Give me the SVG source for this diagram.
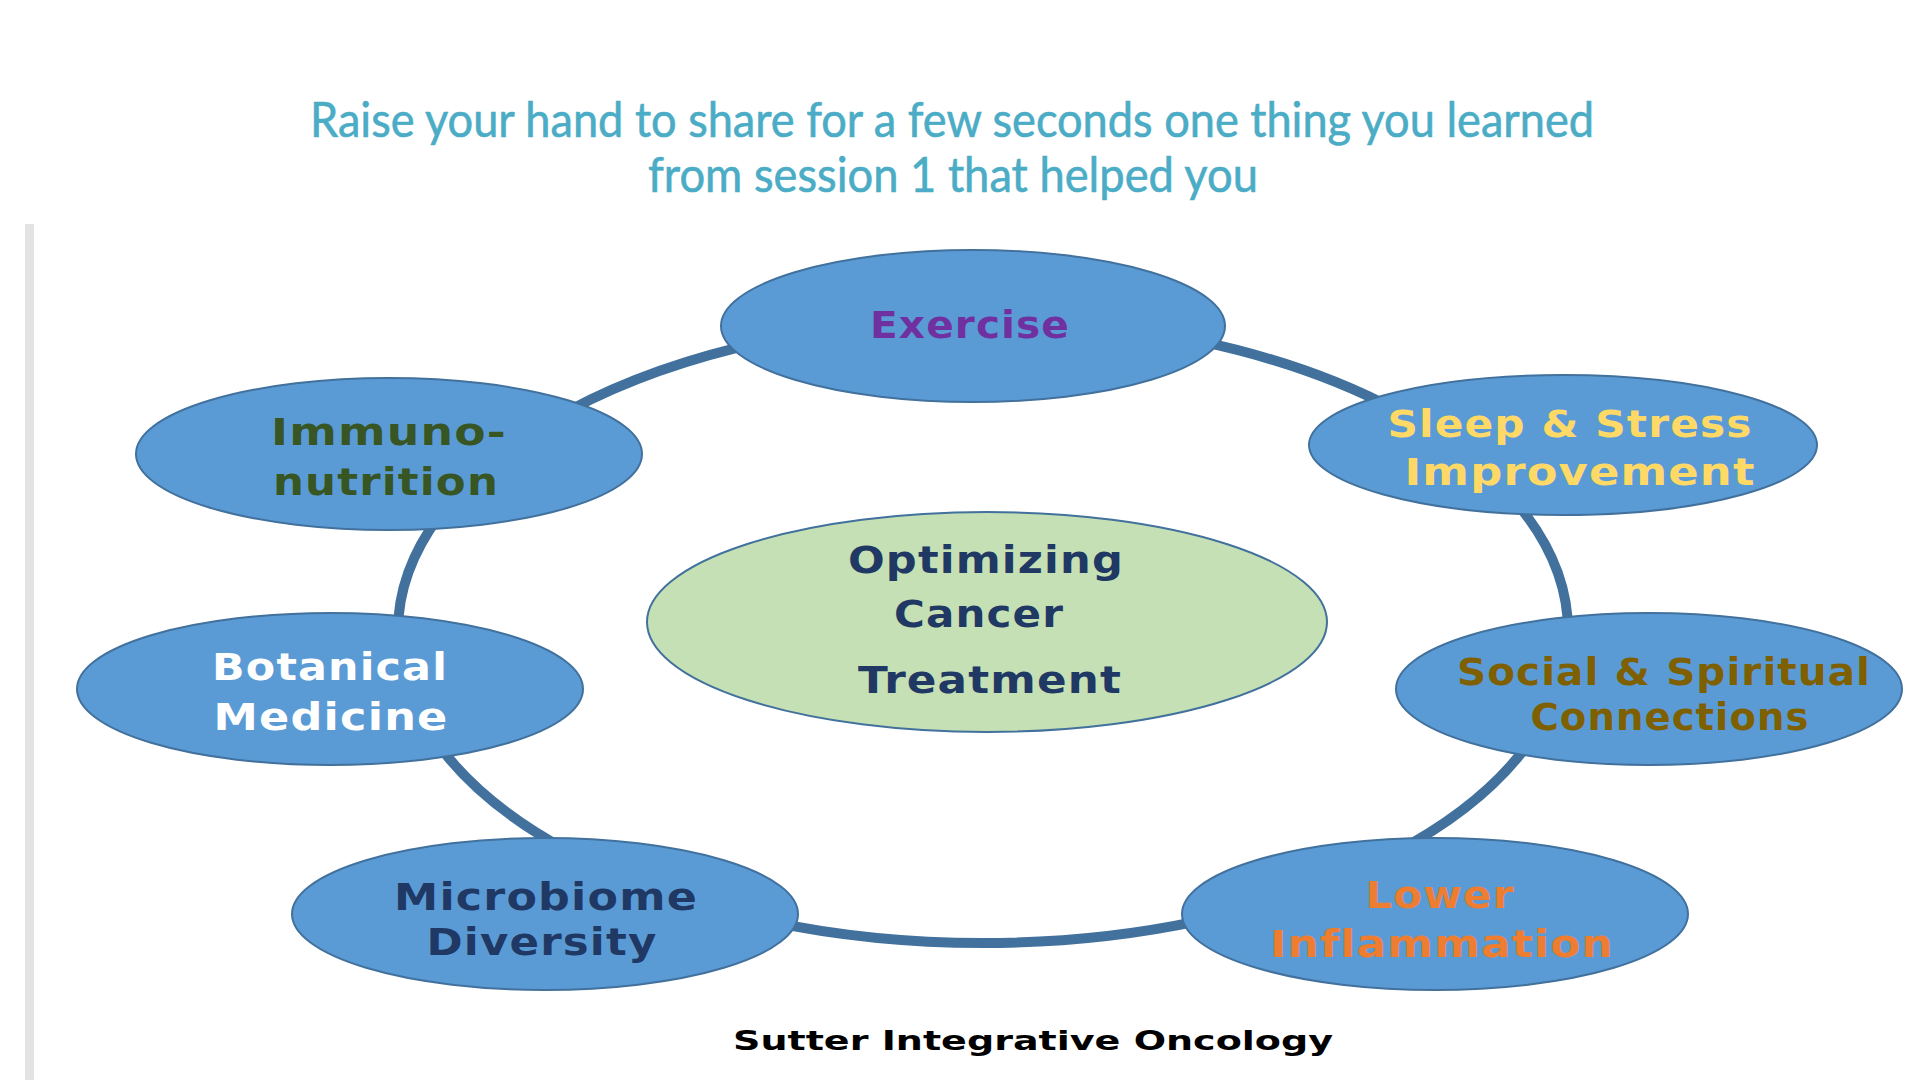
<svg xmlns="http://www.w3.org/2000/svg" width="1920" height="1080" viewBox="0 0 1920 1080">
<style>
.title{font-family:Lato,"Open Sans","Liberation Sans",sans-serif;font-size:48px;fill:#4BACC6;text-anchor:middle;stroke:#4BACC6;stroke-width:0.6}
.node{fill:#5B9BD5;stroke:#41719C;stroke-width:2}
.hub{fill:#C5E0B4;stroke:#41719C;stroke-width:2}
.lbl{font-family:"DejaVu Sans",Verdana,sans-serif;font-weight:bold;font-size:37px;text-anchor:middle;letter-spacing:1px}
.ring{fill:none;stroke:#41719C;stroke-width:10}
.foot{font-family:"DejaVu Sans",Verdana,sans-serif;font-weight:bold;font-size:27px;fill:#000;text-anchor:middle}
</style>
<rect width="1920" height="1080" fill="#FFFFFF"/>
<rect x="25" y="224" width="9" height="856" fill="#E3E3E3"/>
<text class="title" x="952" y="137" textLength="1284" lengthAdjust="spacingAndGlyphs">Raise your hand to share for a few seconds one thing you learned</text>
<text class="title" x="953" y="192" textLength="610" lengthAdjust="spacingAndGlyphs">from session 1 that helped you</text>
<g id="connectors">
<ellipse class="ring" cx="983" cy="631" rx="585" ry="312"/>
</g>
<g id="node-exercise">
<ellipse class="node" cx="973" cy="326" rx="252" ry="76"/>
<text class="lbl" x="970" y="338" fill="#7030A0" textLength="200" lengthAdjust="spacingAndGlyphs">Exercise</text>
</g>
<g id="node-immuno">
<ellipse class="node" cx="389" cy="454" rx="253" ry="76"/>
<text class="lbl" x="389" y="445" fill="#375623" textLength="236" lengthAdjust="spacingAndGlyphs">Immuno-</text>
<text class="lbl" x="386" y="495" fill="#375623" textLength="226" lengthAdjust="spacingAndGlyphs">nutrition</text>
</g>
<g id="node-sleep">
<ellipse class="node" cx="1563" cy="445" rx="254" ry="70"/>
<text class="lbl" x="1570" y="437" fill="#FFD966" textLength="365" lengthAdjust="spacingAndGlyphs">Sleep &amp; Stress</text>
<text class="lbl" x="1580" y="485" fill="#FFD966" textLength="351" lengthAdjust="spacingAndGlyphs">Improvement</text>
</g>
<g id="node-center">
<ellipse class="hub" cx="987" cy="622" rx="340" ry="110"/>
<text class="lbl" x="986" y="573" fill="#1F3864" textLength="276" lengthAdjust="spacingAndGlyphs">Optimizing</text>
<text class="lbl" x="979" y="627" fill="#1F3864" textLength="170" lengthAdjust="spacingAndGlyphs">Cancer</text>
<text class="lbl" x="990" y="693" fill="#1F3864" textLength="264" lengthAdjust="spacingAndGlyphs">Treatment</text>
</g>
<g id="node-botanical">
<ellipse class="node" cx="330" cy="689" rx="253" ry="76"/>
<text class="lbl" x="330" y="680" fill="#FFFFFF" textLength="236" lengthAdjust="spacingAndGlyphs">Botanical</text>
<text class="lbl" x="331" y="730" fill="#FFFFFF" textLength="235" lengthAdjust="spacingAndGlyphs">Medicine</text>
</g>
<g id="node-social">
<ellipse class="node" cx="1649" cy="689" rx="253" ry="76"/>
<text class="lbl" x="1664" y="685" fill="#7F6000" textLength="414" lengthAdjust="spacingAndGlyphs">Social &amp; Spiritual</text>
<text class="lbl" x="1670" y="730" fill="#7F6000" textLength="279" lengthAdjust="spacingAndGlyphs">Connections</text>
</g>
<g id="node-microbiome">
<ellipse class="node" cx="545" cy="914" rx="253" ry="76"/>
<text class="lbl" x="546" y="910" fill="#1F3864" textLength="304" lengthAdjust="spacingAndGlyphs">Microbiome</text>
<text class="lbl" x="542" y="955" fill="#1F3864" textLength="231" lengthAdjust="spacingAndGlyphs">Diversity</text>
</g>
<g id="node-lower">
<ellipse class="node" cx="1435" cy="914" rx="253" ry="76"/>
<text class="lbl" x="1440" y="908" fill="#ED7D31" textLength="149" lengthAdjust="spacingAndGlyphs">Lower</text>
<text class="lbl" x="1442" y="957" fill="#ED7D31" textLength="344" lengthAdjust="spacingAndGlyphs">Inflammation</text>
</g>
<text class="foot" x="1033" y="1050" textLength="600" lengthAdjust="spacingAndGlyphs">Sutter Integrative Oncology</text>
</svg>
